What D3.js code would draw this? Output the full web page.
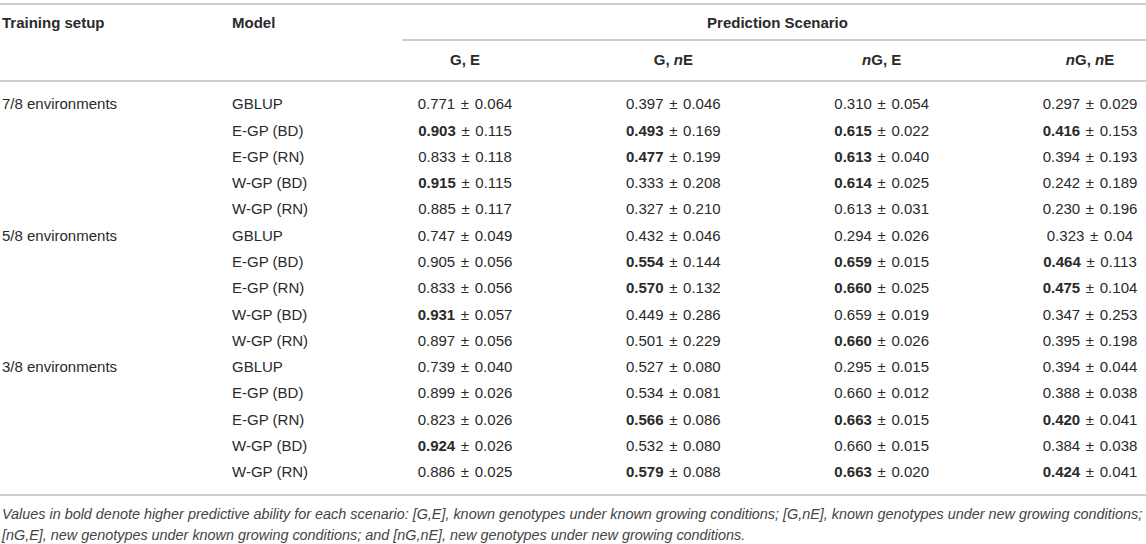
<!DOCTYPE html>
<html>
<head>
<meta charset="utf-8">
<script src="https://cdn.jsdelivr.net/npm/d3@7"></script>
<style>
  body { margin: 0; background: #fff; }
  svg text { font-family: "Liberation Sans", Arial, Helvetica, sans-serif; fill: #2a2a2a; }
</style>
</head>
<body>
<div id="table"></div>
<script>
// table content
var setups = ["7/8 environments", "", "", "", "",
              "5/8 environments", "", "", "", "",
              "3/8 environments", "", "", "", ""];
var models = ["GBLUP", "E-GP (BD)", "E-GP (RN)", "W-GP (BD)", "W-GP (RN)",
              "GBLUP", "E-GP (BD)", "E-GP (RN)", "W-GP (BD)", "W-GP (RN)",
              "GBLUP", "E-GP (BD)", "E-GP (RN)", "W-GP (BD)", "W-GP (RN)"];

// scenario headers: [text, italic?] pieces
var scenarios = ["GE", "GnE", "nGE", "nGnE"];
var scenarioLabels = [
    [["G, E", false]],
    [["G, ", false], ["n", true], ["E", false]],
    [["n", true], ["G, E", false]],
    [["n", true], ["G, ", false], ["n", true], ["E", false]]
];

var meanGE   = ["0.771","0.903","0.833","0.915","0.885","0.747","0.905","0.833","0.931","0.897","0.739","0.899","0.823","0.924","0.886"];
var sdGE     = ["0.064","0.115","0.118","0.115","0.117","0.049","0.056","0.056","0.057","0.056","0.040","0.026","0.026","0.026","0.025"];
var meanGnE  = ["0.397","0.493","0.477","0.333","0.327","0.432","0.554","0.570","0.449","0.501","0.527","0.534","0.566","0.532","0.579"];
var sdGnE    = ["0.046","0.169","0.199","0.208","0.210","0.046","0.144","0.132","0.286","0.229","0.080","0.081","0.086","0.080","0.088"];
var meanNGE  = ["0.310","0.615","0.613","0.614","0.613","0.294","0.659","0.660","0.659","0.660","0.295","0.660","0.663","0.660","0.663"];
var sdNGE    = ["0.054","0.022","0.040","0.025","0.031","0.026","0.015","0.025","0.019","0.026","0.015","0.012","0.015","0.015","0.020"];
var meanNGnE = ["0.297","0.416","0.394","0.242","0.230","0.323","0.464","0.475","0.347","0.395","0.394","0.388","0.420","0.384","0.424"];
var sdNGnE   = ["0.029","0.153","0.193","0.189","0.196","0.04","0.113","0.104","0.253","0.198","0.044","0.038","0.041","0.038","0.041"];

// rows where the mean is printed in bold
var boldGE   = [1, 3, 8, 13];
var boldGnE  = [1, 2, 6, 7, 12, 14];
var boldNGE  = [1, 2, 3, 6, 7, 9, 12, 14];
var boldNGnE = [1, 6, 7, 12, 14];

var footnote = [
    "Values in bold denote higher predictive ability for each scenario: [G,E], known genotypes under known growing conditions; [G,nE], known genotypes under new growing conditions;",
    "[nG,E], new genotypes under known growing conditions; and [nG,nE], new genotypes under new growing conditions."
];

var width = 1146, height = 544;
var lineColor = "#bcbcbc";

var svg = d3.select("#table").append("svg")
    .attr("width", width)
    .attr("height", height);

var rowIdx = d3.range(models.length);
var y = d3.scalePoint().domain(rowIdx).range([104, 472]);
var x = d3.scalePoint().domain(scenarios).range([465, 1090]);

var columns = [
    {key: "GE",   mean: meanGE,   sd: sdGE,   bold: boldGE},
    {key: "GnE",  mean: meanGnE,  sd: sdGnE,  bold: boldGnE},
    {key: "nGE",  mean: meanNGE,  sd: sdNGE,  bold: boldNGE},
    {key: "nGnE", mean: meanNGnE, sd: sdNGnE, bold: boldNGnE}
];

// rules
function hline(x1, x2, yy) {
    svg.append("line")
        .attr("x1", x1).attr("x2", x2)
        .attr("y1", yy).attr("y2", yy)
        .attr("stroke", lineColor)
        .attr("stroke-width", 1.6);
}
hline(0, width, 4);
hline(402, width, 40);
hline(0, width, 81);
hline(0, width, 495);

// header
var head = svg.append("g").attr("font-weight", "bold").attr("font-size", 15);
head.append("text").attr("x", 2).attr("y", 23).attr("dy", "0.35em").text("Training setup");
head.append("text").attr("x", 232).attr("y", 23).attr("dy", "0.35em").text("Model");
head.append("text").attr("x", (x("GE") + x("nGnE")) / 2).attr("y", 23).attr("dy", "0.35em")
    .attr("text-anchor", "middle").text("Prediction Scenario");

head.selectAll(".sub")
    .data(scenarios)
    .enter().append("text")
    .attr("class", "sub")
    .attr("x", function(d) { return x(d); })
    .attr("y", 60)
    .attr("dy", "0.35em")
    .attr("text-anchor", "middle")
    .each(function(d, i) {
        var t = d3.select(this);
        scenarioLabels[i].forEach(function(p) {
            t.append("tspan").attr("font-style", p[1] ? "italic" : null).text(p[0]);
        });
    });

// body
var body = svg.append("g").attr("font-size", 15);

body.selectAll(".setup")
    .data(rowIdx.filter(function(i) { return setups[i] !== ""; }))
    .enter().append("text")
    .attr("class", "setup")
    .attr("x", 2)
    .attr("y", function(i) { return y(i); })
    .attr("dy", "0.35em")
    .text(function(i) { return setups[i]; });

body.selectAll(".model")
    .data(rowIdx)
    .enter().append("text")
    .attr("class", "model")
    .attr("x", 232)
    .attr("y", function(i) { return y(i); })
    .attr("dy", "0.35em")
    .text(function(i) { return models[i]; });

columns.forEach(function(col) {
    body.selectAll(".v-" + col.key)
        .data(rowIdx)
        .enter().append("text")
        .attr("class", "v-" + col.key)
        .attr("x", x(col.key))
        .attr("y", function(i) { return y(i); })
        .attr("dy", "0.35em")
        .attr("text-anchor", "middle")
        .each(function(i) {
            var t = d3.select(this);
            t.append("tspan")
                .attr("font-weight", col.bold.indexOf(i) >= 0 ? "bold" : null)
                .text(col.mean[i]);
            t.append("tspan").attr("dx", 1.5).text(" \u00b1");
            t.append("tspan").attr("dx", 1.5).text(" " + col.sd[i]);
        });
});

// footnote
svg.append("g")
    .attr("font-size", 14.4)
    .attr("font-style", "italic")
    .selectAll("text")
    .data(footnote)
    .enter().append("text")
    .attr("x", 2)
    .attr("y", function(d, i) { return 514 + i * 21; })
    .attr("dy", "0.35em")
    .style("fill", "#444")
    .text(function(d) { return d; });
</script>
</body>
</html>
